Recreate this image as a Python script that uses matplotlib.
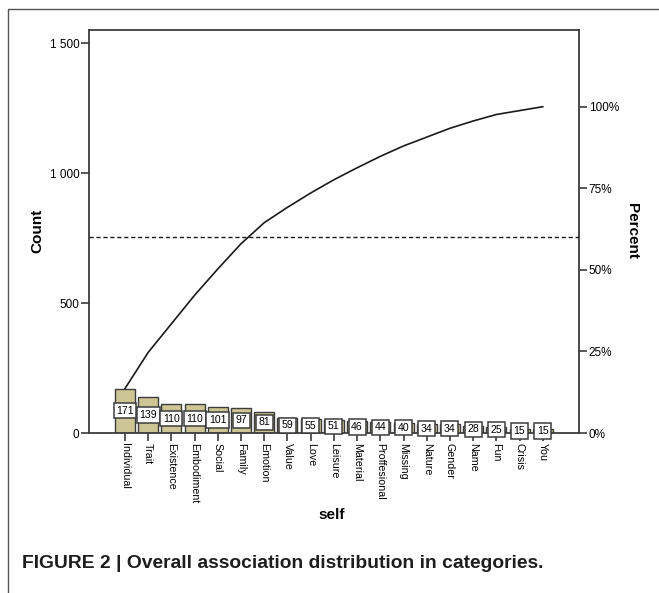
import numpy as np
import matplotlib
matplotlib.use('Agg')
import matplotlib.pyplot as plt
from matplotlib.lines import Line2D
from matplotlib import font_manager

# category counts (sorted, pareto style)
categories = ['Individual', 'Trait', 'Existence', 'Embodiment', 'Social', 'Family',
              'Emotion', 'Value', 'Love', 'Leisure', 'Material', 'Proffesional',
              'Missing', 'Nature', 'Gender', 'Name', 'Fun', 'Crisis', 'You']
counts = [171, 139, 110, 110, 101, 97, 81, 59, 55, 51, 46, 44, 40, 34, 34, 28, 25, 15, 15]
pct_ticks = [0, 25, 50, 75, 100]
count_ticks = [0, 500, 1000, 1500]
count_ticklabels = ['0', '500', '1 000', '1 500']
ref_pct = 60

plt.rcParams['font.family'] = ['Liberation Sans', 'DejaVu Sans']

# narrow font for the boxed value labels, if there is one
names = {f.name for f in font_manager.fontManager.ttflist}
if 'Liberation Sans Narrow' in names:
    lab_font, lab_size = 'Liberation Sans Narrow', 9.0
else:
    lab_font, lab_size = 'Liberation Sans', 7.6

W, H = 659, 593
fig = plt.figure(figsize=(W / 100, H / 100), dpi=100)

def fx(px):
    return px / W

def fy(py):
    return 1 - py / H

ax = fig.add_axes([fx(89), fy(433), fx(579) - fx(89), fy(30) - fy(433)])

x = np.arange(len(categories))
total = sum(counts)
cum = np.cumsum(counts)

edge = '#3c3c3c'
ax.bar(x, counts, width=0.86, color='#cdc593', edgecolor=edge, linewidth=1.0, zorder=2)
ax.plot(x, cum, color='#1a1a1a', lw=1.2, zorder=3)
ax.axhline(total * ref_pct / 100, color='#1a1a1a', lw=1.0, ls=(0, (3, 2)), zorder=3)

# value labels in boxes at mid-height
for xi, c in zip(x, counts):
    ax.text(xi, c / 2, str(c), ha='center', va='center', fontsize=lab_size, zorder=4,
            family=lab_font,
            bbox=dict(boxstyle='square,pad=0.25', fc='white', ec=edge, lw=1.1))

ax.set_xlim(-1.55, len(categories) - 1 + 1.56)
ax.set_ylim(0, 1550)
ax.set_yticks(count_ticks)
ax.set_yticklabels(count_ticklabels)
ax.set_xticks(x)
ax.set_xticklabels(categories, rotation=-90, fontsize=7.7)
ax.tick_params(axis='y', direction='out', length=6, width=1.2, color=edge,
               labelsize=8.5, pad=1)
ax.tick_params(axis='x', direction='out', length=6, width=1.2, color=edge,
               labelsize=7.7, pad=1)
for s in ax.spines.values():
    s.set_color(edge)
    s.set_linewidth(1.3)

ax2 = ax.twinx()
ax2.set_ylim(0, 1550 / total * 100)
ax2.set_yticks(pct_ticks)
ax2.set_yticklabels(['%d%%' % p for p in pct_ticks])
ax2.tick_params(axis='y', direction='out', length=6, width=1.2, color=edge,
                labelsize=8.5, pad=1)
for s in ax2.spines.values():
    s.set_visible(False)

fig.text(fx(37), fy(231), 'Count', rotation=90, ha='center', va='center',
         fontsize=11, fontweight='bold')
fig.text(fx(632), fy(231), 'Percent', rotation=-90, ha='center', va='center',
         fontsize=11, fontweight='bold')
fig.text(fx(332), fy(515), 'self', ha='center', va='center',
         fontsize=11, fontweight='bold')

fig.text(fx(22), fy(563), 'FIGURE 2 | Overall association distribution in categories.',
         ha='left', va='center', fontsize=13.9, fontweight='bold', color='#1e1e1e')

# outer frame (left and top edges)
fig.add_artist(Line2D([fx(8), fx(8), 1.0], [0.0, fy(9), fy(9)],
                      transform=fig.transFigure, color='#555555', lw=1.0))

fig.savefig('out.png', dpi=100)
